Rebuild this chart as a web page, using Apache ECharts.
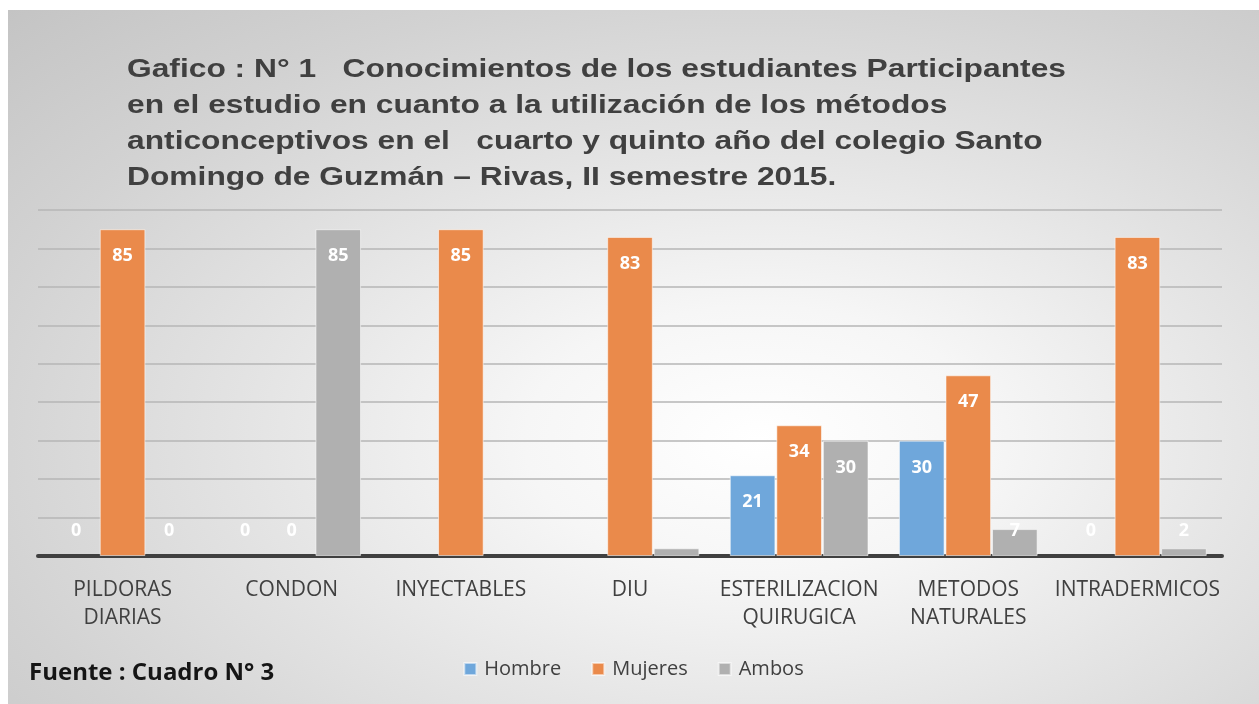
<!DOCTYPE html>
<html lang="es">
<head>
<meta charset="UTF-8" />
<title>Gafico N 1</title>
<style>
  html, body { margin: 0; padding: 0; background: #fff; }
  #chart {
    position: absolute; left: 8px; top: 10px; width: 1251px; height: 694px;
    background: radial-gradient(farthest-corner at 60% 62%, #ffffff 0%, #f6f6f6 22%, #e4e4e4 48%, #d2d2d2 75%, #c4c4c4 100%);
  }
</style>
</head>
<body>
<div id="chart"></div>
<script src="https://cdn.jsdelivr.net/npm/echarts@6/dist/echarts.min.js"></script>
<script>
// datos
var categorias = ['PILDORAS\nDIARIAS', 'CONDON', 'INYECTABLES', 'DIU', 'ESTERILIZACION\nQUIRUGICA', 'METODOS\nNATURALES', 'INTRADERMICOS'];
var hombre  = [0, 0, null, null, 21, 30, 0];
var mujeres = [85, 0, 85, 83, 34, 47, 83];
var ambos   = [0, 85, null, 2, 30, 7, 2];
var ambosSinEtiqueta = [3]; // la barra de DIU no muestra rotulo

var titulo = 'Gafico : N° 1   Conocimientos de los estudiantes Participantes\n' +
  'en el estudio en cuanto a la utilización de los métodos\n' +
  'anticonceptivos en el   cuarto y quinto año del colegio Santo\n' +
  'Domingo de Guzmán – Rivas, II semestre 2015.';

var colores = ['#6fa7db', '#ea8a4b', '#b0b0b0'];

var myChart = echarts.init(document.getElementById('chart'));

function serie(nombre, valores, color, ocultar) {
  return {
    name: nombre,
    type: 'bar',
    barGap: '2%',
    barCategoryGap: '18%',
    itemStyle: { color: color, borderColor: 'rgba(255,255,255,0.55)', borderWidth: 1 },
    data: valores.map(function (v, i) {
      if (v === null) return '-';
      var item = { value: v };
      if (v === 0) item.itemStyle = { borderWidth: 0 };
      if (ocultar && ocultar.indexOf(i) >= 0) {
        item.label = { show: false };
      } else if (v < 8) {
        item.label = { position: 'insideBottom', distance: 16 };
      }
      return item;
    }),
    label: {
      show: true,
      position: 'insideTop',
      distance: 18,
      color: '#fff',
      fontWeight: 'bold',
      fontSize: 18,
      fontFamily: 'Open Sans'
    }
  };
}

var option = {
  animation: false,
  legend: {
    bottom: 20,
    left: 'center',
    itemWidth: 12,
    itemHeight: 12,
    itemGap: 30,
    icon: 'rect',
    textStyle: { fontFamily: 'Open Sans', fontSize: 20, color: '#404040', padding: [0, 0, 0, 3] },
    data: ['Hombre', 'Mujeres', 'Ambos']
  },
  graphic: [
    {
      // el titulo original aparece estirado a lo ancho
      type: 'text',
      x: 119,
      y: 42,
      scaleX: 1.27,
      style: {
        text: titulo,
        font: 'bold 25px "Liberation Sans"',
        lineHeight: 36,
        fill: '#404040',
        verticalAlign: 'top'
      }
    },
    {
      type: 'text',
      x: 21,
      y: 663,
      style: {
        text: 'Fuente : Cuadro N° 3',
        font: 'bold 24px "Open Sans"',
        fill: '#151515',
        verticalAlign: 'middle'
      }
    }
  ],
  grid: { left: 30, right: 37, top: 200, bottom: 148 },
  xAxis: {
    type: 'category',
    data: categorias,
    axisTick: { show: false },
    axisLine: { lineStyle: { color: '#404040', width: 4 } },
    axisLabel: {
      fontFamily: 'Open Sans',
      fontSize: 21,
      lineHeight: 28,
      color: '#404040',
      margin: 20,
      interval: 0
    }
  },
  yAxis: {
    type: 'value',
    min: 0,
    max: 90,
    interval: 10,
    axisLabel: { show: false },
    axisLine: { show: false },
    axisTick: { show: false },
    splitLine: { lineStyle: { color: '#b6b6b6', width: 1.5 } }
  },
  series: [
    serie('Hombre', hombre, colores[0]),
    serie('Mujeres', mujeres, colores[1]),
    serie('Ambos', ambos, colores[2], ambosSinEtiqueta)
  ]
};

myChart.setOption(option);
</script>
</body>
</html>
